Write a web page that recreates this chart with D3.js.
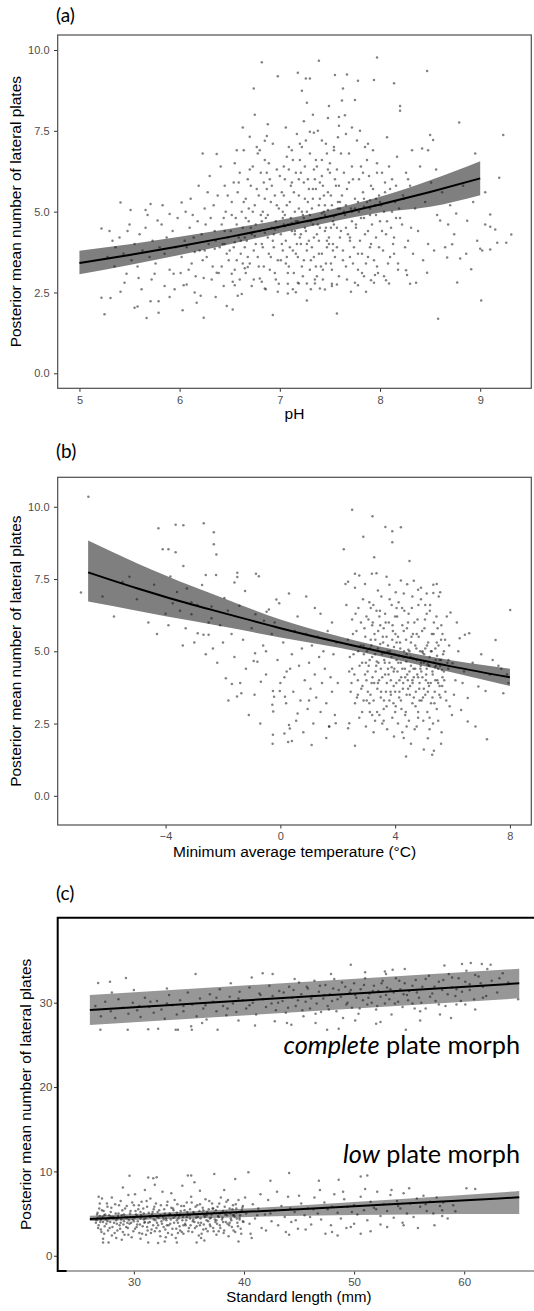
<!DOCTYPE html>
<html><head><meta charset="utf-8">
<script src="https://cdn.jsdelivr.net/npm/d3@7"></script>
<style>html,body{margin:0;padding:0;background:#fff}svg{display:block}</style>
</head><body>
<svg id="chart" width="534" height="1311"></svg>
<script>
// ---------------- DATA ----------------
// Panel (a): pH
const phTicks = [5, 6, 7, 8, 9];
const yTicksAB = [0, 2.5, 5, 7.5, 10];
const phFitX = [5, 5.5, 6, 6.5, 7, 7.5, 8, 8.5, 9];
const phFit  = [3.41, 3.66, 3.93, 4.22, 4.53, 4.86, 5.22, 5.61, 6.03];
const phLo   = [3.06, 3.35, 3.66, 3.99, 4.34, 4.67, 4.97, 5.15, 5.51];
const phHi   = [3.79, 3.99, 4.22, 4.47, 4.74, 5.06, 5.46, 5.97, 6.56];
const phPoints = [
[5.22,2.34],[5.25,1.83],[5.31,2.33],[5.41,2.52],[5.47,3.08],[5.59,2.95],[5.55,2.03],[5.58,2.07],[5.67,1.71],[5.71,2.23],[5.79,2.23],[5.79,1.87],[5.75,3.08],[5.90,2.36],[5.94,3.08],[6.01,3.10],
[5.41,5.28],[5.22,4.48],[5.51,5.05],[5.66,5.05],[5.71,5.24],[5.78,4.73],[5.90,4.93],
[5.28,3.6],[5.33,4.1],[5.36,3.9],[5.40,4.2],[5.44,3.7],[5.48,4.4],[5.52,3.5],[5.55,4.0],[5.58,3.3],[5.60,4.3],[5.63,3.8],[5.66,4.5],[5.70,3.6],[5.73,4.1],[5.76,3.4],[5.80,3.9],[5.82,4.6],[5.85,3.7],[5.87,4.2],[5.90,3.2],[5.93,4.4],[5.96,3.9],[5.98,4.8],[5.35,3.3],[5.45,2.8],[5.62,2.6],[5.72,2.9],[5.85,2.7],[5.95,2.6],[5.30,4.4],[5.50,4.6],[5.68,4.9],[5.83,5.2],
[6.03,1.95],[6.04,2.72],[6.07,2.75],[6.17,2.18],[6.24,1.72],[6.24,2.95],[6.36,2.36],[6.37,3.11],[6.47,2.08],[6.02,5.28],[6.23,6.80],[6.37,6.78],
[6.02,3.6],[6.05,4.1],[6.07,3.9],[6.10,4.5],[6.12,3.4],[6.14,4.2],[6.16,3.0],[6.18,4.7],[6.20,3.8],[6.22,4.3],[6.25,5.1],[6.27,3.6],[6.29,4.0],[6.31,4.8],[6.33,3.3],[6.35,4.4],[6.38,5.5],[6.40,3.9],[6.42,4.6],[6.44,2.7],[6.46,5.0],[6.48,4.2],[6.49,3.5],[6.06,5.0],[6.11,5.4],[6.15,2.5],[6.19,5.8],[6.21,2.4],[6.26,4.6],[6.30,6.1],[6.32,2.9],[6.34,5.2],[6.39,3.1],[6.41,6.4],[6.43,4.0],[6.45,5.8],[6.47,3.7],[6.13,4.9],[6.28,5.6],[6.36,4.1],[6.09,3.2],[6.23,3.5],[6.44,4.8],
[6.55,2.72],[6.53,2.83],[6.52,3.08],[6.53,1.97],[6.58,2.40],[6.62,2.45],[6.65,3.25],[6.68,3.29],[6.80,2.93],[6.82,2.83],[6.93,1.80],[6.85,2.62],[6.98,2.52],[6.99,2.77],[6.82,9.62],[6.98,9.19],[6.74,8.81],[6.70,7.32],[6.87,7.34],[6.85,7.19],
[6.51,4.4],[6.52,5.3],[6.54,3.9],[6.55,6.5],[6.56,4.8],[6.57,3.5],[6.58,5.6],[6.59,4.2],[6.60,6.2],[6.61,3.7],[6.62,5.0],[6.63,4.5],[6.64,6.9],[6.65,3.9],[6.66,5.4],[6.67,4.1],[6.68,6.0],[6.69,4.7],[6.70,3.4],[6.71,5.8],[6.72,4.3],[6.73,6.4],[6.74,3.8],[6.75,5.2],[6.76,4.6],[6.77,7.0],[6.78,3.6],[6.79,5.5],[6.80,4.4],[6.81,6.2],[6.82,4.0],[6.83,5.0],[6.84,3.3],[6.85,6.6],[6.86,4.8],[6.87,5.7],[6.88,4.2],[6.89,3.7],[6.90,6.0],[6.91,5.3],[6.92,4.5],[6.93,7.1],[6.94,3.9],[6.95,5.5],[6.96,4.7],[6.97,6.3],[6.98,3.5],[6.99,5.1],[6.54,5.9],[6.60,2.9],[6.66,3.1],[6.72,2.7],[6.78,6.8],[6.84,5.9],[6.90,3.2],[6.96,2.9],[6.63,7.6],[6.75,8.0],[6.88,7.7],[6.57,6.9],[6.69,5.1],[6.81,4.9],[6.93,4.1],[6.87,6.2],
[7.39,9.67],[7.18,9.30],[7.26,9.12],[7.30,9.12],[7.22,8.74],[7.27,8.37],[7.55,9.23],[7.49,8.27],[7.59,7.93],[7.08,2.47],[7.16,2.51],[7.08,2.77],[7.19,2.78],[7.27,2.78],[7.35,2.78],[7.27,2.25],[7.40,2.62],[7.45,2.59],[7.57,1.85],[7.52,2.77],[7.57,2.75],
[7.01,4.3],[7.02,5.6],[7.03,3.8],[7.04,6.4],[7.05,4.9],[7.06,3.4],[7.07,5.2],[7.08,4.6],[7.09,7.0],[7.10,3.9],[7.11,5.8],[7.12,4.4],[7.13,6.6],[7.14,3.1],[7.15,5.0],[7.16,4.7],[7.17,7.4],[7.18,3.6],[7.19,5.5],[7.20,4.2],[7.21,6.2],[7.22,3.3],[7.23,4.9],[7.24,5.9],[7.25,4.5],[7.26,7.2],[7.27,3.8],[7.28,5.3],[7.29,4.1],[7.30,6.8],[7.31,3.5],[7.32,5.1],[7.33,4.6],[7.34,6.3],[7.35,2.9],[7.36,5.7],[7.37,4.3],[7.38,7.5],[7.39,3.7],[7.40,5.4],[7.41,4.8],[7.42,6.1],[7.43,3.2],[7.44,5.0],[7.45,4.4],[7.46,7.1],[7.47,3.9],[7.48,5.6],[7.49,4.2],[7.50,6.5],[7.51,3.4],[7.52,5.2],[7.53,4.7],[7.54,6.9],[7.55,3.6],[7.56,5.8],[7.57,4.5],[7.58,7.3],[7.59,3.0],[7.60,5.3],
[7.02,4.0],[7.05,6.0],[7.08,3.1],[7.11,4.8],[7.14,5.6],[7.17,4.0],[7.20,6.6],[7.23,3.0],[7.26,4.4],[7.29,5.7],[7.32,3.9],[7.35,6.0],[7.38,4.6],[7.41,3.3],[7.44,5.5],[7.47,4.1],[7.50,6.2],[7.53,3.8],[7.56,4.9],[7.59,5.8],
[7.04,4.6],[7.10,5.3],[7.16,3.7],[7.22,5.0],[7.28,4.7],[7.34,3.6],[7.40,5.9],[7.46,4.5],[7.52,3.2],[7.58,5.1],[7.06,7.6],[7.12,6.9],[7.24,7.8],[7.33,8.0],[7.42,7.2],[7.48,7.9],[7.54,7.0],[7.13,2.6],[7.31,2.6],[7.43,2.9],[7.36,3.3],[7.21,4.0],[7.45,5.2],[7.37,6.4],[7.19,6.0],[7.27,5.0],[7.51,4.5],[7.39,4.1],[7.07,3.6],[7.57,6.3],[7.03,5.0],[7.33,5.4],[7.25,6.4],[7.47,6.8],[7.15,4.3],[7.53,4.0],[7.30,7.47],[7.34,7.44],[7.20,7.1],[7.42,6.6],[7.09,6.3],
[7.97,9.77],[7.67,9.24],[7.78,9.05],[7.94,9.07],[8.14,8.97],[7.63,8.81],[7.75,8.45],[7.62,8.44],[8.20,8.27],[8.20,8.12],[7.65,7.98],[7.59,7.66],[7.71,2.52],[7.78,2.72],[7.86,2.52],[7.91,2.88],[7.95,3.04],[8.06,2.88],[8.09,2.78],
[7.61,4.4],[7.62,5.5],[7.63,3.8],[7.64,6.2],[7.65,4.9],[7.66,3.3],[7.67,5.7],[7.68,4.3],[7.69,6.8],[7.70,3.6],[7.71,5.1],[7.72,4.7],[7.73,6.0],[7.74,3.9],[7.75,5.4],[7.76,4.5],[7.77,7.2],[7.78,3.2],[7.79,5.0],[7.80,4.1],[7.81,6.4],[7.82,3.7],[7.83,5.6],[7.84,4.8],[7.85,7.0],[7.86,3.4],[7.87,5.3],[7.88,4.4],[7.89,6.1],[7.90,3.9],[7.91,5.8],[7.92,4.6],[7.93,6.9],[7.94,3.5],[7.95,5.2],[7.96,4.2],[7.97,6.5],[7.98,3.1],[7.99,5.5],[8.00,4.7],[8.02,6.2],[8.03,3.8],[8.04,5.0],[8.06,4.3],[8.07,7.3],[8.08,3.4],[8.10,5.7],[8.11,4.5],[8.12,6.0],[8.14,3.7],[8.15,5.3],[8.16,4.8],[8.17,6.7],[8.18,3.2],[8.19,5.1],[7.66,7.4],[7.72,7.6],[7.80,7.5],[7.88,7.1],[7.75,2.8],[7.84,3.0],[7.97,3.3],[8.05,5.9],[8.13,4.0],[7.70,4.2],[7.90,4.9],[7.83,6.2],[8.01,5.2],
[8.26,3.19],[8.27,3.04],[8.30,2.77],[8.47,3.11],[8.58,1.69],[8.67,3.58],[8.72,3.99],[8.77,2.81],[8.80,3.55],[8.91,3.22],[9.00,3.85],[9.02,3.80],[9.10,3.83],[9.17,4.04],[9.26,4.04],[9.01,2.25],[8.47,9.35],[8.79,7.76],[8.50,7.37],[8.53,7.22],[9.23,7.37],[8.42,6.95],[8.48,6.90],[9.19,6.05],[9.10,4.91],[9.10,4.53],[9.31,4.29],[9.05,4.60],[9.15,4.45],[8.76,4.94],[8.87,4.72],[8.60,4.73],
[8.22,4.6],[8.24,5.4],[8.26,6.2],[8.28,4.1],[8.30,5.8],[8.33,3.7],[8.35,5.1],[8.38,4.4],[8.40,6.4],[8.43,3.5],[8.45,5.3],[8.48,4.0],[8.51,5.9],[8.54,3.8],[8.57,4.9],[8.62,5.6],[8.65,3.9],[8.70,5.2],[8.74,4.3],[8.83,5.8],[8.86,3.7],[8.93,5.3],[8.97,4.1],[9.05,5.6],[8.32,6.9],[8.36,2.8],[8.56,6.3],[8.68,4.6],[8.95,6.8],
[6.42,3.3],[6.45,4.4],[6.48,5.5],[6.50,3.8],[6.52,4.9],[6.55,3.2],[6.57,4.6],[6.59,5.9],[6.61,4.1],[6.63,3.4],[6.64,5.3],[6.66,4.8],[6.68,3.6],[6.70,6.3],[6.71,4.5],[6.73,5.0],[6.74,2.9],[6.76,4.0],[6.77,5.7],[6.79,3.3],[6.80,6.9],[6.82,4.7],[6.83,3.9],[6.85,5.4],[6.86,2.6],[6.88,4.9],[6.89,6.5],[6.91,3.6],[6.92,5.8],[6.94,4.3],[6.95,3.1],[6.97,5.2],[6.98,4.5],[7.00,6.1],[7.01,3.5],[7.03,4.8],[7.04,5.5],[7.06,4.1],[7.07,6.7],[7.09,3.3],[7.10,4.6],[7.12,5.9],[7.13,3.8],[7.15,4.4],[7.16,6.2],[7.18,2.8],[7.19,5.1],[7.21,4.3],[7.22,7.0],[7.24,3.5],[7.25,5.4],[7.27,4.0],[7.28,6.0],[7.30,3.2],[7.31,4.7],[7.33,5.7],[7.34,4.2],[7.36,6.6],[7.37,3.0],[7.39,5.2],[7.40,4.5],[7.42,3.7],[7.43,5.8],[7.45,4.9],[7.46,3.4],[7.48,6.3],[7.49,4.0],[7.51,5.5],[7.52,2.7],[7.54,4.6],[7.55,6.0],[7.57,3.9],[7.58,5.3],[7.60,4.2],[7.61,6.8],[7.63,3.5],[7.64,5.0],[7.66,4.5],[7.67,2.9],[7.69,5.9],[7.70,4.1],[7.72,6.4],[7.73,3.4],[7.75,5.1],[7.76,4.6],[7.78,3.7],[7.79,6.0],[7.81,4.8],[7.82,3.1],[7.84,5.4],[7.85,4.3],[7.87,6.6],[7.88,3.6],[7.90,5.1],[7.91,4.0],[7.93,5.7],[7.94,2.8],[7.96,4.9],[7.97,6.2],[7.99,3.9],[8.00,5.3],[8.02,4.4],[8.04,3.0],[8.05,5.6],[8.07,4.7],[8.09,6.4],[8.10,3.6],[8.12,5.0],[8.14,4.2],[8.16,5.8],[8.18,3.4],[8.20,4.8],[8.23,5.5],[8.25,3.9],[8.28,6.0],[8.31,4.5],
[7.05,4.55],[7.12,4.65],[7.18,4.7],[7.24,4.8],[7.30,4.9],[7.36,4.75],[7.42,4.95],[7.48,5.05],[7.54,4.85],[7.60,5.1],[7.66,5.2],[7.72,5.0],[7.78,5.3],[7.84,5.15],[7.90,5.35],[7.96,5.4],[6.95,4.45],[6.85,4.35],[6.75,4.25],[6.65,4.2],[6.55,4.05],[6.45,4.0],[6.35,3.85],[6.25,3.8],[6.15,3.75]
];

// Panel (b): minimum average temperature
const tempTicks = [-4, 0, 4, 8];
const tempFitX = [-6.7, -5, -4, -2, 0, 2, 4, 6, 8];
const tempFit  = [7.73, 7.18, 6.88, 6.33, 5.80, 5.32, 4.88, 4.47, 4.10];
const tempLo   = [6.72, 6.40, 6.21, 5.86, 5.48, 5.13, 4.72, 4.27, 3.80];
const tempHi   = [8.83, 8.05, 7.62, 6.84, 6.10, 5.53, 5.05, 4.68, 4.40];
const tempPoints = [
[-6.69,10.35],[-6.95,7.03],[-5.26,7.58],[-4.25,9.26],[-4.10,8.53],[-3.90,8.53],[-3.65,9.38],[-3.38,9.36],[-3.65,8.43],[-2.67,9.43],[-2.32,9.12],[-2.32,8.70],[-2.23,8.35],[-3.38,7.95],[-3.83,7.59],[-3.60,7.05],[-3.26,7.17],[-3.75,6.66],[-3.50,6.40],[-3.10,6.70],[-3.10,6.28],[-2.73,7.29],[-2.60,7.64],[-2.24,7.64],[-2.40,6.55],[-2.40,6.14],[-2.50,6.00],[-1.95,6.84],[-1.83,6.40],[-1.60,7.38],[-1.50,7.72],[-1.50,7.57],[-1.23,7.09],[-0.85,7.68],[-0.75,7.60],[-1.43,6.58],[-0.87,6.28],[-0.57,6.06],[-0.48,6.37],[-0.40,6.45],[-0.14,6.79],[-0.04,6.66],
[-2.88,5.62],[-2.68,5.57],[-2.50,5.57],[-2.35,5.10],[-1.90,4.07],[-1.69,3.87],[-1.81,3.30],[-1.51,3.44],[-1.36,3.55],[-0.93,4.66],[-0.80,4.64],[-0.88,4.93],[-0.68,3.95],[-0.26,3.63],[-0.22,3.43],[-0.28,3.15],[-0.25,2.92],[-0.26,2.11],[-0.27,1.80],[-0.02,3.63],[0.16,3.43],[0.14,2.16],[0.27,1.86],[0.30,2.45],[0.33,2.33],[0.60,2.85],[1.09,1.76],[0.14,4.1],[0.22,4.3],[0.34,4.4],
[-5.8,6.2],[-5.0,6.8],[-4.6,6.0],[-4.4,7.3],[-4.0,6.3],[-3.9,5.9],[-3.3,5.8],[-3.0,5.3],[-2.9,6.6],[-2.1,5.9],[-2.0,5.3],[-1.7,5.6],[-1.6,4.8],[-1.3,5.4],[-1.2,4.4],[-1.0,5.8],[-0.9,3.5],[-0.6,5.2],[-0.5,4.2],[-0.3,5.6],[-0.1,4.7],[0.0,3.9],[0.1,5.3],[0.2,3.2],[0.4,4.9],[0.45,3.6],[0.5,5.7],[0.55,2.6],[0.65,4.5],[0.7,3.3],[0.75,5.1],[0.8,2.2],[0.85,4.0],[0.9,5.6],[0.95,3.0],[1.0,4.6],[1.05,3.7],[1.1,5.2],[1.15,2.5],[1.2,4.2],[1.25,3.4],[1.3,5.5],[1.35,4.8],[1.4,2.9],[1.45,3.9],[1.5,5.0],[1.55,4.4],[1.6,3.2],[1.65,5.7],[1.7,2.4],[1.75,4.1],[1.8,3.6],[1.85,4.9],[1.9,2.8],[1.93,2.51],[1.95,5.3],[2.0,3.9],[-1.1,2.8],[-0.7,2.5],[-1.4,3.9],[-2.2,4.6],[-2.6,4.9],[-0.2,6.0],[0.6,6.2],[1.2,6.5],[1.8,6.0],[-3.4,5.2],[-4.3,5.6],[-5.5,7.4],[-6.2,6.9],[0.9,6.9],[1.4,6.3],[0.3,7.0],[-0.5,5.0],[1.0,3.3],[1.6,2.0],[0.4,1.9],
[2.21,8.53],[2.50,9.90],[2.89,8.96],[3.21,9.67],[3.27,8.25],[3.66,9.30],[3.90,9.15],[4.20,9.29],[3.90,8.77],[4.50,8.12],[2.27,7.33],[2.36,7.41],[2.60,7.68],[2.75,7.62],[2.95,7.33],[3.19,7.68],[3.35,7.70],[3.70,7.58],[4.02,7.04],[4.20,7.45],[4.42,7.32],[4.65,7.44],[4.80,7.13],[5.33,7.30],[5.45,7.33],[5.33,7.02],[5.57,7.04],[5.93,6.34],
[4.30,2.00],[4.38,1.36],[3.96,2.05],[2.60,1.73],[5.29,1.42],[5.35,1.56],[5.14,1.99],[5.60,1.80],[2.36,2.34],[2.40,2.51],[1.70,2.40],
[2.3,6.6],[2.35,5.4],[2.4,4.3],[2.45,3.6],[2.5,6.1],[2.55,4.9],[2.6,3.2],[2.65,5.7],[2.7,4.0],[2.72,6.5],[2.75,2.7],[2.8,5.2],[2.82,3.7],[2.85,4.6],[2.88,6.8],[2.9,3.3],[2.93,5.8],[2.95,4.2],[2.98,2.4],[3.0,6.2],[3.02,5.0],[3.05,3.6],[3.08,4.5],[3.1,6.7],[3.12,2.9],[3.15,5.4],[3.18,3.9],[3.2,4.8],[3.22,6.0],[3.25,3.3],[3.28,5.6],[3.3,2.6],[3.32,4.3],[3.35,6.4],[3.38,3.7],[3.4,5.1],[3.42,4.6],[3.45,2.8],[3.48,5.9],[3.5,3.4],[3.52,6.9],[3.55,4.1],[3.58,5.3],[3.6,3.0],[3.62,4.7],[3.65,6.3],[3.68,3.6],[3.7,5.5],[3.72,2.3],[3.75,4.4],[3.78,6.0],[3.8,3.3],[3.82,5.0],[3.85,4.0],[3.88,6.6],[3.9,2.7],[3.92,5.7],[3.95,3.8],[3.98,4.9],[4.0,6.2],[4.02,3.1],[4.05,5.3],[4.08,4.3],[4.1,2.5],[4.12,6.7],[4.15,3.6],[4.18,5.1],[4.2,4.6],[4.22,3.0],[4.25,5.9],[4.28,3.9],[4.3,4.8],[4.32,6.4],[4.35,2.8],[4.38,5.4],[4.4,3.5],[4.42,4.2],[4.45,6.0],[4.48,2.6],[4.5,5.0],[4.52,3.8],[4.55,4.5],[4.58,6.5],[4.6,3.2],[4.62,5.6],[4.65,4.1],[4.68,2.3],[4.7,5.2],[4.72,3.6],[4.75,4.7],[4.78,6.1],[4.8,2.9],[4.82,5.5],[4.85,3.9],[4.88,4.4],[4.9,6.8],[4.92,3.3],[4.95,5.0],[4.98,2.6],[5.0,4.6],[5.02,5.8],[5.05,3.5],[5.08,4.2],[5.1,6.3],[5.12,2.9],[5.15,5.3],[5.18,3.8],[5.2,4.8],[5.22,6.6],[5.25,3.2],[5.28,5.6],[5.3,4.3],[5.32,2.5],[5.35,6.0],[5.38,3.6],[5.4,5.1],[5.42,4.5],[5.45,3.0],[5.48,5.8],[5.5,3.9],[5.52,6.9],[5.55,4.7],[5.58,3.4],[5.6,5.4],[5.62,2.2],[5.65,4.1],[5.7,5.0],[5.75,3.6],[5.8,6.2],[5.85,4.4],[5.9,3.1],
[2.5,4.4],[2.7,3.5],[2.9,5.2],[3.0,4.0],[3.1,3.2],[3.2,5.9],[3.3,4.9],[3.4,3.9],[3.5,4.4],[3.6,5.8],[3.65,4.2],[3.7,3.1],[3.75,5.2],[3.8,4.6],[3.85,3.5],[3.9,5.4],[3.95,4.3],[4.0,3.6],[4.05,4.7],[4.1,5.5],[4.15,4.0],[4.2,3.3],[4.25,4.4],[4.3,5.7],[4.35,4.1],[4.4,4.9],[4.45,3.7],[4.5,4.3],[4.55,5.3],[4.6,4.0],[4.65,3.4],[4.7,4.4],[4.75,5.6],[4.8,4.1],[4.85,3.3],[4.9,4.6],[4.95,4.1],[5.0,3.7],[5.05,5.1],[5.1,4.4],[5.15,3.9],[5.2,4.5],[5.25,5.0],[5.3,3.4],[5.35,4.6],[5.4,4.0],[5.45,5.3],[5.5,4.4],[5.55,3.8],[5.6,4.7],[5.65,5.6],[5.7,4.3],[3.45,6.2],[4.05,6.5],[4.6,6.9],[5.05,6.6],[3.15,6.5],[3.55,2.5],[4.25,2.2],[4.75,2.4],[5.2,2.7],[2.85,2.9],[3.25,2.2],[4.55,1.8],[5.0,1.6],
[2.42,4.8],[2.48,3.9],[2.53,5.6],[2.58,4.2],[2.62,6.3],[2.67,3.4],[2.71,5.0],[2.76,4.5],[2.81,6.0],[2.86,3.8],[2.91,4.9],[2.96,5.5],[3.01,3.3],[3.04,4.3],[3.07,6.1],[3.11,4.7],[3.14,3.5],[3.17,5.2],[3.21,4.1],[3.24,6.6],[3.27,3.9],[3.31,5.4],[3.34,4.5],[3.37,2.9],[3.41,5.7],[3.44,4.0],[3.47,6.4],[3.51,3.6],[3.54,4.9],[3.57,5.5],[3.61,3.3],[3.64,4.6],[3.67,6.0],[3.71,3.9],[3.74,5.0],[3.77,4.2],[3.81,6.8],[3.84,3.6],[3.87,4.8],[3.91,5.9],[3.94,3.2],[3.97,4.4],[4.01,5.6],[4.04,3.9],[4.07,6.2],[4.11,4.6],[4.14,3.4],[4.17,5.3],[4.21,4.1],[4.24,6.5],[4.27,3.7],[4.31,5.0],[4.34,4.4],[4.37,2.9],[4.41,5.8],[4.44,4.0],[4.47,6.3],[4.51,3.5],[4.54,4.8],[4.57,5.5],[4.61,3.9],[4.64,4.4],[4.67,6.0],[4.71,3.1],[4.74,5.1],[4.77,4.2],[4.81,6.6],[4.84,3.7],[4.87,5.0],[4.91,4.3],[4.94,5.7],[4.97,3.4],[5.01,4.9],[5.04,6.1],[5.07,4.0],[5.11,5.2],[5.14,3.6],[5.17,4.5],[5.21,6.4],[5.24,3.9],[5.27,5.0],[5.31,4.2],[5.34,5.6],[5.37,3.2],[5.41,4.7],[5.44,6.2],[5.47,4.0],[5.51,5.2],[5.54,3.5],[5.57,4.5],[5.61,5.9],[5.64,3.8],[5.67,4.9],[5.71,4.0],[5.74,5.4],[5.78,3.3],[5.82,4.6],[5.88,5.2],[3.36,4.65],[3.62,4.95],[3.88,4.45],[4.13,4.85],[4.39,4.65],[4.63,4.75],[4.89,4.5],[5.13,4.55],[5.39,4.45],[5.63,4.35],[3.12,5.1],[3.48,5.25],[3.96,5.15],[4.46,5.05],[4.96,4.95],[5.46,4.85],[2.98,4.6],[3.2,2.8],[3.6,2.6],[4.0,2.9],[4.4,2.4],[4.8,2.7],[5.2,2.3],[5.5,2.6],[3.4,7.1],[3.8,7.3],[4.3,7.0],[4.9,7.2],[5.1,7.0],[2.6,7.2],
[5.98,2.80],[6.30,2.97],[6.53,2.57],[6.53,3.38],[7.20,1.96],[7.50,5.39],[7.77,3.55],[6.90,3.78],[7.15,3.63],[6.25,5.45],[6.43,5.57],[6.58,5.62],[5.86,4.70],[6.00,4.59],[8.01,6.43],[6.1,4.0],[6.2,5.0],[6.4,4.3],[6.7,4.6],[6.8,2.4],[7.0,4.9],[7.3,4.2],[7.6,4.5],[7.9,4.2],[7.95,3.9],[6.05,3.5],[6.35,3.9],[7.4,4.7],[7.7,4.4],[6.15,6.0]
];

// Panel (c): standard length, two morphs
const lengthTicks = [30, 40, 50, 60];
const yTicksC = [0, 10, 20, 30];
const completeFitX = [26, 65];
const completeFit  = [29.14, 32.30];
const completeLo   = [27.36, 30.52];
const completeHi   = [30.92, 34.03];
const lowFitX = [26, 35, 45, 55, 65];
const lowFit  = [4.35, 4.88, 5.52, 6.21, 6.93];
const lowLo   = [4.11, 4.42, 4.75, 4.90, 4.94];
const lowHi   = [4.74, 5.25, 5.95, 6.78, 7.67];
const completePoints = [
[26.96,26.8],[26.75,32.34],[29.28,32.92],[27.83,32.5],[29.44,26.8],[31.3,26.85],[32.2,26.9],[33.8,26.8],[34.0,26.8],[35.26,26.8],[35.2,27.2],[35.6,33.4],[37.6,26.8],[41.7,33.5],[42.6,33.4],[40.7,33.0],[43.9,27.6],[44.3,27.4],[47.55,26.8],[48.6,26.9],[49.7,34.5],[51.0,33.6],[52.8,33.7],[52.9,33.4],[54.6,34.0],[54.7,26.8],[58.2,34.4],[59.8,34.6],[60.6,34.7],[61.6,34.6],[62.4,34.5],[64.9,30.4],[59.3,29.8],[60.1,29.8],[61.0,29.2],[61.7,30.6],[52.0,27.5],[52.4,27.7],[57.8,28.6],[55.5,29.3],[56.0,29.0],
[26.5,29.6],[27.0,28.4],[27.4,30.1],[27.9,29.0],[28.3,28.2],[28.6,30.4],[29.0,29.4],[29.5,28.7],[29.9,30.0],[30.3,29.1],[30.6,28.3],[31.0,30.6],[31.4,29.5],[31.8,28.8],[32.1,30.2],[32.5,29.2],[32.8,28.1],[33.2,30.9],[33.5,29.7],[33.9,28.6],[34.2,30.3],[34.5,29.0],[34.9,31.2],[35.3,29.8],[35.7,28.4],[36.0,30.5],[36.3,29.3],[36.6,28.0],[36.9,31.0],[37.2,30.1],[37.5,29.0],[37.8,31.6],[38.1,29.6],[38.4,28.5],[38.7,30.7],[39.0,29.9],[39.3,28.9],[39.6,31.3],[39.9,30.3],[40.2,29.3],[40.5,31.8],[40.8,30.0],[41.1,28.6],[41.4,31.1],[41.7,30.4],[42.0,29.5],[42.3,32.0],[42.6,30.8],[42.9,29.1],[43.2,31.4],[43.5,30.2],[43.8,28.8],[44.1,31.9],[44.4,30.6],[44.7,29.6],[45.0,32.4],[45.2,31.0],[45.4,28.4],[45.6,30.1],[45.8,31.7],[46.0,29.3],[46.2,30.8],[46.4,32.6],[46.6,29.9],[46.8,31.3],[47.0,28.9],[47.2,30.5],[47.4,32.1],[47.6,29.6],[47.8,31.0],[48.0,30.2],[48.2,32.8],[48.4,29.0],[48.6,31.5],[48.8,30.7],[49.0,28.2],[49.2,31.9],[49.4,30.0],[49.6,31.2],[49.8,29.4],[50.0,32.3],[50.2,30.6],[50.4,28.7],[50.6,31.6],[50.8,30.3],[51.0,32.9],[51.2,29.8],[51.4,31.1],[51.6,30.0],[51.8,32.0],[52.0,29.2],[52.2,31.4],[52.4,30.7],[52.6,32.6],[52.8,29.9],[53.0,31.8],[53.2,30.4],[53.4,28.6],[53.6,31.2],[53.8,32.9],[54.0,30.1],[54.2,31.6],[54.4,29.5],[54.6,32.3],[54.8,30.9],[55.0,31.4],[55.3,29.9],[55.6,32.7],[55.9,30.6],[56.2,31.9],[56.5,29.3],[56.8,33.2],[57.1,31.1],[57.4,30.2],[57.7,32.5],[58.0,31.5],[58.3,29.6],[58.6,33.4],[58.9,31.8],[59.2,30.8],[59.5,32.9],[59.8,31.3],[60.2,33.8],[60.5,32.2],[60.9,30.4],[61.3,33.1],[61.7,31.9],[62.1,34.0],[62.5,32.6],[63.0,31.2],[63.5,33.5],[64.0,32.4],[36.2,27.6],[39.5,27.9],[42.8,27.8],[46.5,27.6],[50.1,27.9],[44.6,32.8],[38.8,32.3],[33.0,31.7],[30.0,31.5],[28.0,31.2],[56.0,27.9],[58.8,28.2],[41.0,27.3],[47.9,33.4],[53.5,33.9],
[43.1,30.0],[43.6,31.2],[44.0,29.4],[44.5,31.5],[44.9,30.3],[45.3,29.1],[45.7,31.9],[46.1,30.5],[46.5,28.7],[46.9,32.0],[47.3,30.9],[47.7,29.2],[48.1,31.7],[48.5,30.4],[48.9,32.4],[49.3,29.8],[49.7,31.5],[50.1,30.9],[50.5,29.3],[50.9,32.1],[51.3,30.6],[51.7,31.4],[52.1,29.6],[52.5,32.3],[52.9,30.9],[53.3,31.6],[53.7,29.9],[54.1,32.6],[54.5,31.0],[54.9,30.3],[55.3,32.0],[55.7,31.2],[56.1,30.0],[56.5,32.8],[56.9,30.7],[57.3,31.9],[57.7,29.8],[58.1,32.7],[58.5,31.0],[58.9,33.0],[59.3,31.6],[59.7,30.2],[60.1,32.5],[60.5,31.5],[61.0,33.3],[61.5,32.3],[62.0,30.8],[63.2,32.9],[36.5,29.7],[37.5,30.6],[38.5,29.3],[39.5,30.5],[40.5,29.7],[41.5,30.9],[42.5,29.9],[34.5,29.6],[33.0,29.9],[31.5,30.1],[30.5,29.6]
];
const lowPoints = [
[29.6,9.49],[31.3,9.29],[31.76,9.2],[32.07,9.3],[31.9,8.43],[34.9,9.5],[35.2,9.5],[35.5,8.7],[37.3,9.7],[39.2,9.1],[40.4,9.9],[42.4,8.9],[44.1,9.8],[46.8,8.9],[48.6,9.0],[50.6,9.4],[51.2,9.5],[60.2,8.0],[57.3,3.6],[59.2,5.27],[58.0,4.7],[27.2,1.58],[27.7,1.58],[28.4,2.1],[29.5,2.5],[31.3,1.58],[32.2,1.5],[32.8,1.7],[33.9,1.58],[35.7,1.58],[36.4,1.8],[39.5,1.7],[40.7,2.1],[44.1,2.5],[48.0,2.8],[50.6,2.6],[54.4,3.9],[54.5,3.6],[52.4,3.7],[26.8,7.0],[27.1,6.8],
[26.6,4.2],[26.7,5.1],[26.8,3.6],[26.9,4.7],[27.0,3.1],[27.1,5.4],[27.2,4.0],[27.3,2.6],[27.4,4.9],[27.5,3.8],[27.6,5.8],[27.7,4.4],[27.8,3.3],[27.9,5.2],[28.0,2.4],[28.1,4.6],[28.2,3.9],[28.3,6.1],[28.4,4.2],[28.5,3.0],[28.6,5.0],[28.7,3.6],[28.8,6.5],[28.9,4.8],[29.0,2.8],[29.1,4.1],[29.2,5.6],[29.3,3.4],[29.4,4.5],[29.5,7.2],[29.6,3.8],[29.7,5.3],[29.8,2.2],[29.9,4.3],[30.0,6.0],[30.1,3.2],[30.2,4.9],[30.3,3.7],[30.4,5.5],[30.5,2.7],[30.6,4.4],[30.7,6.4],[30.8,3.5],[30.9,5.0],[31.0,4.0],[31.1,2.5],[31.2,5.8],[31.3,3.9],[31.4,4.7],[31.5,6.8],[31.6,3.1],[31.7,5.2],[31.8,4.3],[31.9,2.9],[32.0,6.2],[32.1,4.6],[32.2,3.6],[32.3,5.4],[32.4,2.3],[32.5,4.1],[32.6,7.6],[32.7,3.4],[32.8,5.0],[32.9,4.4],[33.0,6.0],[33.1,2.7],[33.2,4.8],[33.3,3.8],[33.4,5.7],[33.5,3.2],[33.6,4.5],[33.7,6.6],[33.8,2.1],[33.9,5.1],[34.0,3.9],[34.1,4.7],[34.2,3.0],[34.3,5.9],[34.4,4.2],[34.5,2.6],[34.6,5.4],[34.7,3.6],[34.8,6.3],[34.9,4.9],[35.0,3.3],[35.1,4.4],[35.2,7.0],[35.3,2.8],[35.4,5.2],[35.5,4.0],[35.6,5.8],[35.7,3.5],[35.8,4.6],[35.9,2.4],[36.0,6.1],[36.1,3.9],[36.2,5.0],[36.3,3.1],[36.4,4.8],[36.5,6.7],[36.6,4.2],[36.7,2.9],[36.8,5.5],[36.9,3.7],[37.0,4.5],[37.1,6.2],[37.2,3.3],[37.3,5.1],[37.4,4.0],[37.5,2.5],[37.6,5.8],[37.7,4.6],[37.8,3.6],[37.9,6.9],[38.0,4.3],[38.1,5.3],[38.2,3.0],[38.3,4.9],[38.4,6.4],[38.5,3.8],[38.6,2.3],[38.7,5.6],[38.8,4.4],[38.9,3.4],[39.0,6.0],[39.1,4.8],[39.2,2.8],[39.3,5.1],[39.4,3.9],[39.5,6.6],[39.6,4.5],[39.7,3.2],[39.8,5.4],[39.9,4.1],
[26.7,4.5],[27.0,4.3],[27.3,4.8],[27.6,4.1],[27.9,4.6],[28.2,4.5],[28.5,4.4],[28.8,3.9],[29.1,4.9],[29.4,3.9],[29.7,4.6],[30.0,4.1],[30.3,4.7],[30.6,5.2],[30.9,4.3],[31.2,3.4],[31.5,4.6],[31.8,5.5],[32.1,3.9],[32.4,4.8],[32.7,4.3],[33.0,3.6],[33.3,4.9],[33.6,5.4],[33.9,4.2],[34.2,4.9],[34.5,3.6],[34.8,4.6],[35.1,5.5],[35.4,4.3],[35.7,4.9],[36.0,3.6],[36.3,5.4],[36.6,4.8],[36.9,4.4],[37.2,5.6],[37.5,4.2],[37.8,5.0],[38.1,4.0],[38.4,5.2],[38.7,3.9],[39.0,4.8],[39.3,5.6],[39.6,4.3],[39.9,5.9],[27.2,2.0],[28.9,1.9],[30.6,2.0],[32.9,2.2],[34.0,2.7],[36.1,2.1],[37.7,2.9],[26.9,6.2],[28.0,6.9],[30.1,7.3],[31.0,7.8],[33.4,7.4],[36.0,7.7],[38.2,7.8],[34.4,8.3],[29.0,8.1],
[26.55,3.9],[26.65,4.9],[26.75,3.3],[26.85,5.6],[26.95,4.0],[27.05,2.8],[27.15,4.6],[27.25,5.3],[27.35,3.5],[27.45,4.3],[27.55,6.2],[27.65,3.0],[27.75,4.8],[27.85,4.0],[27.95,5.7],[28.05,3.4],[28.15,4.4],[28.25,2.7],[28.35,5.0],[28.45,3.8],[28.55,4.7],[28.65,6.0],[28.75,3.2],[28.85,4.3],[28.95,5.4],[29.05,3.7],[29.15,2.5],[29.25,4.6],[29.35,5.9],[29.45,3.3],[29.55,4.2],[29.65,5.0],[29.75,3.9],[29.85,6.3],[29.95,2.9],[30.05,4.5],[30.15,5.3],[30.25,3.4],[30.35,4.1],[30.45,6.0],[30.55,3.7],[30.65,4.8],[30.75,2.6],[30.85,5.6],[30.95,3.9],[31.05,4.4],[31.15,6.5],[31.25,3.0],[31.35,5.1],[31.45,4.0],[31.55,2.7],[31.65,4.9],[31.75,3.6],[31.85,5.8],[31.95,4.2],[32.05,3.3],[32.15,5.2],[32.25,4.5],[32.35,2.9],[32.45,6.0],[32.55,3.8],[32.65,4.6],[32.75,5.5],[32.85,3.1],[32.95,4.2],[33.05,6.4],[33.15,3.6],[33.25,5.0],[33.35,4.3],[33.45,2.5],[33.55,5.6],[33.65,3.9],[33.75,4.7],[33.85,3.2],[33.95,6.1],[34.05,4.4],[34.15,3.5],[34.25,5.3],[34.35,2.8],[34.45,4.6],[34.55,5.9],[34.65,3.8],[34.75,4.2],[34.85,5.2],[34.95,2.9],[35.05,4.8],[35.15,3.6],[35.25,6.3],[35.35,4.1],[35.45,5.0],[35.55,3.3],[35.65,4.5],[35.75,6.0],[35.85,3.9],[35.95,5.3],[36.05,4.4],[36.15,2.6],[36.25,5.7],[36.35,3.7],[36.45,4.6],[36.55,3.2],[36.65,5.2],[36.75,4.1],[36.85,6.5],[36.95,3.5],[37.05,4.9],[37.15,5.6],[37.25,2.9],[37.35,4.3],[37.45,5.4],[37.55,3.8],[37.65,4.7],[37.75,6.2],[37.85,3.3],[37.95,5.1],[38.05,4.5],[38.15,2.7],[38.25,5.8],[38.35,4.0],[38.45,4.8],[38.55,6.6],[38.65,3.6],[38.75,5.0],[38.85,4.2],[38.95,5.5],[39.05,3.0],[39.15,4.6],[39.25,6.1],[39.35,4.4],[39.45,3.5],[39.55,5.2],[39.65,4.8],[39.75,2.6],[39.85,5.7],[39.95,4.0],
[40.2,5.0],[40.5,3.8],[40.8,6.1],[41.0,4.4],[41.3,5.6],[41.6,3.3],[41.9,4.9],[42.2,6.6],[42.5,4.1],[42.8,5.4],[43.1,3.6],[43.4,5.9],[43.7,4.6],[44.0,7.0],[44.3,4.0],[44.6,5.2],[44.9,3.2],[45.2,6.2],[45.5,4.8],[45.8,5.6],[46.1,3.7],[46.4,6.9],[46.7,5.0],[47.0,4.3],[47.3,6.3],[47.6,5.5],[47.9,3.6],[48.2,7.3],[48.5,5.1],[48.8,4.4],[49.1,6.7],[49.4,5.8],[49.7,3.4],[50.0,6.0],[50.3,4.9],[50.6,7.0],[50.9,5.4],[51.2,4.2],[51.5,6.4],[51.8,5.7],[52.1,7.6],[52.4,4.7],[52.7,6.1],[53.0,5.3],[53.3,7.2],[53.6,4.5],[53.9,6.5],[54.2,5.6],[54.5,7.4],[54.8,5.0],[55.1,6.2],[55.4,4.6],[55.7,6.8],[56.0,5.8],[56.3,7.1],[56.6,5.3],[56.9,6.4],[57.2,5.0],[57.5,6.9],[57.8,5.9],[58.1,6.3],[58.5,4.4],[59.0,6.0],[40.1,6.9],[41.5,7.3],[43.0,7.6],[45.0,7.1],[46.9,7.8],[49.0,7.6],[51.0,7.9],[53.4,7.8],[55.0,8.0],[40.6,2.6],[42.0,3.0],[43.8,2.8],[45.6,3.1],[47.4,2.6],[49.3,3.3],[51.5,2.9],[53.0,3.4],[55.8,3.3],[41.2,4.8],[42.4,5.0],[44.2,5.6],[46.0,4.6],[48.0,5.8],[49.8,5.2],[52.0,5.5],[54.0,5.9],[56.5,6.1],[58.0,5.4],[61.0,7.9],[48.5,2.4],[50.0,3.8],[44.7,4.2],[46.3,5.5]
];

// ---------------- DRAWING ----------------
const svg = d3.select("#chart");
const sansFont = "'Liberation Sans', Arial, Helvetica, sans-serif";
const labelFont = "Lato, 'Open Sans', sans-serif";
const tickColor = "#4d4d4d";
const yTitle = "Posterior mean number of lateral plates";

function fitText(sel, target) {
  const len = sel.node().getComputedTextLength();
  const fs = parseFloat(sel.attr("font-size"));
  sel.attr("font-size", (fs * target / len).toFixed(2));
}

function drawPanel(cfg) {
  const x = d3.scaleLinear().domain(cfg.xDomain).range([cfg.left, cfg.right]);
  const y = d3.scaleLinear().domain(cfg.yDomain).range([cfg.bottom, cfg.top]);
  const g = svg.append("g");

  cfg.series.forEach(s => {
    s.rows = s.fitX.map((v, i) => ({x: v, fit: s.fit[i], lo: s.lo[i], hi: s.hi[i]}));
    g.append("path").datum(s.rows)
      .attr("d", d3.area().x(d => x(d.x)).y0(d => y(d.lo)).y1(d => y(d.hi)).curve(d3.curveMonotoneX))
      .attr("fill", cfg.ribbon);
  });
  cfg.series.forEach(s => {
    g.append("g").selectAll("circle").data(s.points).join("circle")
      .attr("cx", d => x(d[0])).attr("cy", d => y(d[1])).attr("r", 1.25)
      .attr("fill", "#1a1a1a").attr("fill-opacity", 0.55);
  });
  cfg.series.forEach(s => {
    g.append("path").datum(s.rows)
      .attr("d", d3.line().x(d => x(d.x)).y(d => y(d.fit)).curve(d3.curveMonotoneX))
      .attr("fill", "none").attr("stroke", "#000").attr("stroke-width", 2);
  });

  const xa = g.append("g").attr("transform", `translate(0,${cfg.bottom})`)
    .call(d3.axisBottom(x).tickValues(cfg.xTicks).tickSize(3.5).tickPadding(cfg.xPad).tickFormat(cfg.xFmt));
  const ya = g.append("g").attr("transform", `translate(${cfg.left},0)`)
    .call(d3.axisLeft(y).tickValues(cfg.yTicks).tickSize(3.7).tickPadding(cfg.yPad).tickFormat(cfg.yFmt));
  [xa, ya].forEach(a => {
    a.select(".domain").remove();
    a.selectAll(".tick line").attr("stroke", "#333").attr("stroke-width", 1);
    a.selectAll(".tick text").attr("fill", tickColor).attr("font-family", sansFont).attr("font-size", cfg.tickSize);
  });

  if (cfg.frame === "box") {
    g.append("rect").attr("x", cfg.left).attr("y", cfg.top)
      .attr("width", cfg.right - cfg.left).attr("height", cfg.bottom - cfg.top)
      .attr("fill", "none").attr("stroke", "#4d4d4d").attr("stroke-width", 1.2);
  } else {
    g.append("line").attr("x1", cfg.axisStart).attr("x2", cfg.right)
      .attr("y1", cfg.bottom).attr("y2", cfg.bottom)
      .attr("stroke", "#8a8a8a").attr("stroke-width", 1.5);
    g.append("path")
      .attr("d", `M${cfg.right},${cfg.top}H${cfg.left}V${cfg.bottom}H${cfg.axisStart}`)
      .attr("fill", "none").attr("stroke", "#000").attr("stroke-width", 2);
  }

  g.append("text").attr("x", cfg.xTitleX).attr("y", cfg.xTitleY)
    .attr("text-anchor", "middle").attr("font-family", sansFont).attr("font-size", cfg.titleSize)
    .attr("fill", "#000").text(cfg.xTitle);
  g.append("text").attr("transform", `translate(${cfg.yTitleX},${(cfg.top + cfg.bottom) / 2}) rotate(-90)`)
    .attr("text-anchor", "middle").attr("font-family", sansFont).attr("font-size", 15.5)
    .attr("fill", "#000").text(yTitle);

  g.append("text").attr("x", 56).attr("y", cfg.tagY)
    .attr("font-family", labelFont).attr("font-size", 19).attr("fill", "#000").text(cfg.tag);

  return {x, y, g};
}

const fmt1 = d3.format(".1f");

drawPanel({
  left: 57.7, right: 531.3, top: 35, bottom: 388.3,
  xDomain: [4.783, 9.51], yDomain: [-0.464, 10.464],
  xTicks: phTicks, yTicks: yTicksAB, xFmt: d3.format("d"), yFmt: fmt1,
  xPad: 3.9, yPad: 4.5, tickSize: 11, titleSize: 15.5,
  ribbon: "#7f7f7f", frame: "box",
  series: [{points: phPoints, fitX: phFitX, fit: phFit, lo: phLo, hi: phHi}],
  xTitle: "pH", xTitleX: 294.5, xTitleY: 419.3, yTitleX: 20.5,
  tag: "(a)", tagY: 21.5
});

drawPanel({
  left: 57.7, right: 531.3, top: 477.3, bottom: 825,
  xDomain: [-7.76, 8.745], yDomain: [-1.01, 11.02],
  xTicks: tempTicks, yTicks: yTicksAB, xFmt: d3.format("d"), yFmt: fmt1,
  xPad: 3.4, yPad: 4.5, tickSize: 11, titleSize: 15.5,
  ribbon: "#7f7f7f", frame: "box",
  series: [{points: tempPoints, fitX: tempFitX, fit: tempFit, lo: tempLo, hi: tempHi}],
  xTitle: "Minimum average temperature (\u00B0C)", xTitleX: 294.6, xTitleY: 857.3, yTitleX: 20.5,
  tag: "(b)", tagY: 458.3
});

const pc = drawPanel({
  left: 57.7, right: 534, top: 917.7, bottom: 1271, axisStart: 66.7,
  xDomain: [23.08, 66.34], yDomain: [-1.81, 40.08],
  xTicks: lengthTicks, yTicks: yTicksC, xFmt: d3.format("d"), yFmt: d3.format("d"),
  xPad: 3.0, yPad: 1.6, tickSize: 11.5, titleSize: 15,
  ribbon: "#979797", frame: "open",
  series: [
    {points: completePoints, fitX: completeFitX, fit: completeFit, lo: completeLo, hi: completeHi},
    {points: lowPoints, fitX: lowFitX, fit: lowFit, lo: lowLo, hi: lowHi}
  ],
  xTitle: "Standard length (mm)", xTitleX: 298.9, xTitleY: 1302, yTitleX: 30.8,
  tag: "(c)", tagY: 900
});

function morphLabel(italicWord, rest, yBase, targetW) {
  const t = pc.g.append("text").attr("x", 520).attr("y", yBase).attr("text-anchor", "end")
    .attr("font-family", labelFont).attr("font-size", 22).attr("fill", "#000");
  t.append("tspan").attr("font-style", "italic").text(italicWord);
  t.append("tspan").text(" " + rest);
  fitText(t, targetW);
}
morphLabel("complete", "plate morph", 1054.3, 236.7);
morphLabel("low", "plate morph", 1163.3, 177);
</script>
</body></html>
